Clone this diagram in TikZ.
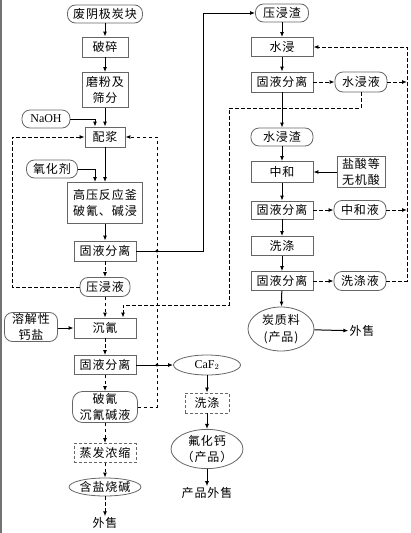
\documentclass[tikz,border=0pt]{standalone}
\usepackage{fontspec}
\setmainfont{Liberation Serif}
\newfontfamily\cjk[LetterSpace=8]{Noto Sans CJK SC}
\usepackage{tikz}
\usetikzlibrary{arrows.meta}
\usetikzlibrary{shapes.geometric}

\tikzset{
  box/.style={draw=black!60, line width=0.8pt, inner sep=0pt, align=center,
    font=\cjk\fontsize{12}{16.5}\selectfont},
  rbox/.style={box, rounded corners=8pt},
  dbox/.style={box, dash pattern=on 3pt off 2pt},
  ell/.style={box, ellipse},
  txt/.style={inner sep=1pt, font=\cjk\fontsize{12}{16.5}\selectfont},
  flow/.style={line width=1pt, -{Latex[length=5pt, width=4pt]}},
  dflow/.style={flow, dash pattern=on 3.5pt off 2.5pt},
}

\begin{document}
\begin{tikzpicture}[x=1pt, y=-1pt]
    \useasboundingbox (0,0) rectangle (410,533);
    \draw[black!55, line width=1.5pt] (1,0) -- (1,533);

    % left column
    \node[rbox, minimum width=75, minimum height=18] (waste) at (105,14) {废阴极炭块};
    \node[box, minimum width=46, minimum height=20] (crush) at (105,47) {破碎};
    \node[box, minimum width=46, minimum height=35] (grind) at (105,90) {磨粉及\\筛分};
    \node[rbox, minimum width=48, minimum height=18, font=\fontsize{12}{14}\selectfont] (naoh) at (46,119) {NaOH};
    \node[box, minimum width=40, minimum height=20] (slurry) at (105,137) {配浆};
    \node[rbox, minimum width=51, minimum height=18] (oxid) at (52,169) {氧化剂};
    \node[box, minimum width=75, minimum height=41] (reactor) at (105,203) {高压反应釜\\破氰、碱浸};
    \node[box, minimum width=62, minimum height=20] (sep1) at (105,251) {固液分离};
    \node[rbox, minimum width=50, minimum height=19] (liquor) at (105,287) {压浸液};
    \node[rbox, minimum width=53, minimum height=29] (calc) at (31,327) {溶解性\\钙盐};
    \node[box, minimum width=62, minimum height=20] (cyan) at (105,328) {沉氰};
    \node[box, minimum width=62, minimum height=19] (sep2) at (105,365) {固液分离};
    \node[rbox, minimum width=65, minimum height=31, rounded corners=10pt] (alk) at (105,407) {破氰\\沉氰碱液};
    \node[dbox, minimum width=62, minimum height=19] (evap) at (105,453) {蒸发浓缩};
    \node[ell, minimum width=72, minimum height=18] (salt) at (105,487) {含盐烧碱};
    \node[txt] (sell1) at (105,523) {外售};

    % right column
    \node[rbox, minimum width=53, minimum height=18] (residue) at (282,13) {压浸渣};
    \node[box, minimum width=62, minimum height=19] (wleach) at (282,47) {水浸};
    \node[box, minimum width=62, minimum height=20] (sep3) at (282,82) {固液分离};
    \node[rbox, minimum width=52, minimum height=20] (wliq) at (361,82) {水浸液};
    \node[rbox, minimum width=62, minimum height=18] (wres) at (282,137) {水浸渣};
    \node[box, minimum width=62, minimum height=21] (neut) at (282,172) {中和};
    \node[box, minimum width=48, minimum height=31] (acid) at (361,172) {盐酸等\\无机酸};
    \node[box, minimum width=62, minimum height=18] (sep4) at (282,210) {固液分离};
    \node[rbox, minimum width=52, minimum height=19] (nliq) at (360,210) {中和液};
    \node[box, minimum width=62, minimum height=19] (wash) at (282,246) {洗涤};
    \node[box, minimum width=62, minimum height=19] (sep5) at (282,281) {固液分离};
    \node[rbox, minimum width=52, minimum height=19] (wsliq) at (360,281) {洗涤液};
    \node[ell, minimum width=66, minimum height=44] (carbon) at (281,329) {炭质料\\(产品)};
    \node[txt] (sell2) at (362,331) {外售};

    % middle bottom
    \node[ell, minimum width=67, minimum height=20, font=\fontsize{12}{14}\selectfont] (caf2) at (207,365) {CaF$_2$};
    \node[dbox, minimum width=44, minimum height=20] (wash2) at (207,403) {洗涤};
    \node[ell, minimum width=69, minimum height=37] (caprod) at (207,449) {氟化钙\\（产品）};
    \node[txt] (sell3) at (207,493) {产品外售};

    % turning points
    \coordinate (lx) at (12,0);
    \coordinate (mx) at (157,0);
    \coordinate (rx) at (407,0);
    \coordinate (wturn) at (229,108);
    \coordinate (cdrop) at (123,305);

    % left flow
    \draw[flow] (waste) -- (crush);
    \draw[flow] (crush) -- (grind);
    \draw[flow] (grind) -- (slurry);
    \draw[flow] (naoh.east) -| ([xshift=-10pt]slurry.north);
    \draw[flow] (slurry) -- (reactor);
    \draw[flow] (oxid.east) -| ([xshift=-10pt]reactor.north);
    \draw[flow] (reactor) -- (sep1);
    \draw[dflow] (sep1) -- (liquor);
    \draw[dflow] (liquor.west) -| (lx |- slurry.west) -- (slurry.west);
    \draw[dflow] (alk.east) -| (mx |- slurry.east) -- (slurry.east);
    \draw[flow] (sep1.east) -| ([xshift=-52pt]residue.west) -- (residue.west);
    \draw[dflow] (liquor) -- (cyan);
    \draw[flow] (calc.east |- cyan.west) -- (cyan.west);
    \draw[dflow] (cyan) -- (sep2);
    \draw[dflow] (sep2) -- (alk);
    \draw[dflow] (alk) -- (evap);
    \draw[dflow] (evap) -- (salt);
    \draw[dflow] (salt) -- (sell1);
    \draw[flow] (sep2) -- (caf2);
    \fill (mx |- sep1.east) circle (1.6pt);
    \fill (mx |- sep2.east) circle (1.6pt);

    % right flow
    \draw[flow] (residue) -- (wleach);
    \draw[flow] (wleach) -- (sep3);
    \draw[dflow] (sep3) -- (wliq);
    \draw[flow] (sep3) -- (wres);
    \draw[flow] (wres) -- (neut);
    \draw[flow] (acid) -- (neut);
    \draw[flow] (neut) -- (sep4);
    \draw[dflow] (sep4) -- (nliq);
    \draw[flow] (sep4) -- (wash);
    \draw[flow] (wash) -- (sep5);
    \draw[dflow] (sep5) -- (wsliq);
    \draw[flow] (sep5) -- (carbon);
    \draw[flow] (carbon) -- (sell2);
    \draw[dflow] (wsliq.east) -| (rx |- wleach.east) -- (wleach.east);
    \draw[dflow] (wliq.east) -- (rx |- wliq.east);
    \draw[dflow] (nliq.east) -- (rx |- nliq.east);
    \draw[dflow] (wliq.south) |- (wturn) |- (cdrop) -- (cdrop |- cyan.north);

    % CaF2 branch
    \draw[flow] (caf2) -- (wash2);
    \draw[flow] (wash2) -- (caprod);
    \draw[flow] (caprod) -- (sell3);
\end{tikzpicture}
\end{document}
